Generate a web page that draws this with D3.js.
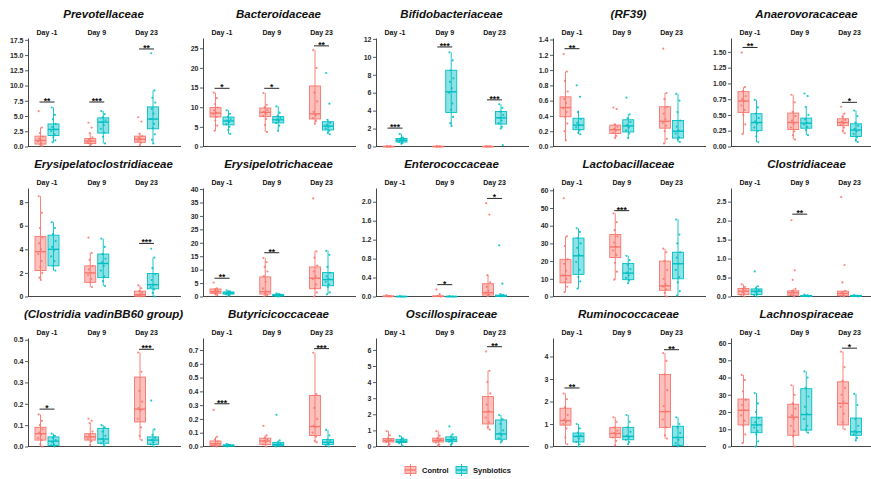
<!DOCTYPE html>
<html>
<head>
<meta charset="utf-8">
<script src="https://cdn.jsdelivr.net/npm/d3@7"></script>
<style>
  body { margin: 0; background: #fff; }
  svg { font-family: 'Liberation Sans', Arial, sans-serif; }
</style>
</head>
<body>
<svg id="chart"></svg>
<script>
// ---- data ----
const families = ['Prevotellaceae', 'Bacteroidaceae', 'Bifidobacteriaceae', '(RF39)', 'Anaerovoracaceae',
  'Erysipelatoclostridiaceae', 'Erysipelotrichaceae', 'Enterococcaceae', 'Lactobacillaceae', 'Clostridiaceae',
  '(Clostridia vadinBB60 group)', 'Butyricicoccaceae', 'Oscillospiraceae', 'Ruminococcaceae', 'Lachnospiraceae'];
const days = ['Day -1', 'Day 9', 'Day 23'];
const groups = ['Control', 'Synbiotics'];

const yTop = [17.8, 27.6, 12.1, 1.42, 1.72, 9.2, 40.4, 2.29, 61.3, 2.86, 0.508, 0.787, 6.74, 4.82, 62.9];
const yTicks = [
  [0, 2.5, 5, 7.5, 10, 12.5, 15, 17.5], [0, 5, 10, 15, 20, 25], [0, 2, 4, 6, 8, 10, 12],
  [0, 0.2, 0.4, 0.6, 0.8, 1.0, 1.2, 1.4], [0, 0.25, 0.5, 0.75, 1.0, 1.25, 1.5],
  [0, 2, 4, 6, 8], [0, 5, 10, 15, 20, 25, 30, 35, 40], [0, 0.4, 0.8, 1.2, 1.6, 2.0],
  [0, 10, 20, 30, 40, 50, 60], [0, 0.5, 1.0, 1.5, 2.0, 2.5],
  [0, 0.1, 0.2, 0.3, 0.4, 0.5], [0, 0.1, 0.2, 0.3, 0.4, 0.5, 0.6, 0.7],
  [0, 1, 2, 3, 4, 5, 6], [0, 1, 2, 3, 4], [0, 10, 20, 30, 40, 50, 60]
];
const tickDigits = [1, 0, 0, 1, 2, 0, 0, 1, 0, 1, 1, 1, 0, 0, 0];

// [lower whisker, q1, median, q3, upper whisker] for Day -1, Day 9, Day 23
const controlBox = [
  [[0, 0.4, 1.0, 1.7, 3.1], [0.1, 0.5, 0.9, 1.3, 2.2], [0.2, 0.7, 1.2, 1.7, 2.1]],
  [[4.0, 7.5, 8.5, 9.9, 13.7], [3.7, 7.6, 8.7, 9.8, 13.6], [5.8, 7.0, 8.3, 15.4, 24.5]],
  [[0, 0, 0, 0.02, 0.05], [0, 0, 0, 0.02, 0.05], [0, 0, 0, 0.02, 0.05]],
  [[0.08, 0.39, 0.51, 0.65, 0.98], [0.11, 0.17, 0.22, 0.28, 0.30], [0.04, 0.24, 0.33, 0.52, 0.70]],
  [[0.20, 0.54, 0.72, 0.87, 0.94], [0.11, 0.27, 0.38, 0.53, 0.82], [0.21, 0.33, 0.38, 0.44, 0.52]],
  [[1.4, 2.2, 3.8, 5.1, 8.5], [0.8, 1.2, 2.0, 2.6, 3.7], [0, 0.02, 0.15, 0.45, 0.95]],
  [[0.5, 1.2, 1.8, 2.8, 3.0], [0.1, 0.9, 1.8, 7.3, 14.3], [0, 2.9, 6.8, 11.0, 16.8]],
  [[0, 0, 0.005, 0.01, 0.02], [0, 0, 0.005, 0.01, 0.02], [0, 0.03, 0.08, 0.27, 0.45]],
  [[2.5, 7.7, 11.8, 21.0, 34.0], [9.5, 22.0, 28.0, 35.0, 47.0], [0, 3.5, 6.0, 20.0, 27.0]],
  [[0, 0.05, 0.14, 0.21, 0.32], [0, 0.03, 0.10, 0.15, 0.20], [0, 0.02, 0.08, 0.14, 0.15]],
  [[0, 0.03, 0.06, 0.09, 0.15], [0.005, 0.03, 0.045, 0.06, 0.11], [0.03, 0.115, 0.175, 0.325, 0.44]],
  [[0, 0.005, 0.02, 0.04, 0.07], [0, 0.015, 0.04, 0.06, 0.08], [0.03, 0.08, 0.145, 0.37, 0.68]],
  [[0.05, 0.28, 0.38, 0.5, 0.95], [0.05, 0.28, 0.38, 0.52, 0.95], [1.05, 1.4, 2.15, 3.1, 4.7]],
  [[0.1, 0.95, 1.15, 1.7, 2.35], [0.05, 0.4, 0.58, 0.85, 1.3], [0.35, 0.85, 1.55, 3.2, 4.15]],
  [[2, 12.5, 21, 27.5, 41.5], [0, 6.5, 17, 24.5, 35.5], [10, 12.5, 25, 37.5, 55]]
];
const synbioticBox = [
  [[0.7, 1.8, 2.8, 3.7, 6.4], [0.5, 2.2, 4.0, 4.7, 5.8], [0.5, 2.9, 4.5, 6.5, 9.2]],
  [[3.2, 5.5, 6.5, 7.5, 9.2], [4.0, 6.0, 6.8, 7.6, 10.2], [3.1, 4.2, 5.2, 6.3, 6.8]],
  [[0.3, 0.5, 0.7, 0.9, 1.4], [2.3, 3.8, 6.1, 8.5, 10.5], [2.0, 2.5, 3.2, 3.9, 4.7]],
  [[0.16, 0.22, 0.28, 0.37, 0.47], [0.11, 0.19, 0.27, 0.35, 0.42], [0.06, 0.11, 0.20, 0.34, 0.69]],
  [[0.07, 0.25, 0.38, 0.52, 0.74], [0.18, 0.29, 0.37, 0.45, 0.63], [0.07, 0.16, 0.26, 0.36, 0.57]],
  [[2.2, 2.6, 4.0, 5.2, 6.3], [0.9, 1.6, 2.8, 3.6, 4.9], [0, 0.65, 1.0, 1.95, 3.3]],
  [[0.2, 0.9, 1.3, 1.7, 2.3], [0, 0.2, 0.4, 0.8, 1.2], [0.8, 4.0, 6.3, 8.9, 17.0]],
  [[0, 0, 0, 0.005, 0.01], [0, 0, 0, 0.005, 0.01], [0, 0, 0.01, 0.03, 0.05]],
  [[4.5, 12.5, 23.0, 33.0, 38.5], [7.5, 9.5, 13.2, 18.7, 23.0], [0.5, 10.0, 18.5, 25.0, 43.5]],
  [[0, 0.05, 0.14, 0.2, 0.27], [0, 0, 0.01, 0.03, 0.05], [0, 0, 0.01, 0.03, 0.04]],
  [[0, 0.005, 0.025, 0.045, 0.06], [0.005, 0.015, 0.035, 0.085, 0.10], [0, 0.01, 0.03, 0.045, 0.08]],
  [[0, 0.002, 0.007, 0.012, 0.02], [0, 0.005, 0.015, 0.03, 0.045], [0, 0.015, 0.03, 0.05, 0.12]],
  [[0.05, 0.25, 0.32, 0.45, 0.65], [0.1, 0.3, 0.42, 0.6, 0.75], [0.25, 0.45, 0.78, 1.65, 1.95]],
  [[0, 0.2, 0.45, 0.6, 1.0], [0.1, 0.3, 0.45, 0.85, 1.4], [0, 0.05, 0.4, 0.9, 1.3]],
  [[0, 8, 12.5, 17, 31], [8, 9.5, 18.5, 33.5, 43.5], [3.5, 6.5, 8.5, 16.5, 30.5]]
];

// individual samples (incl. outliers)
const controlPoints = [
  [[5.8, 3.1, 2.2, 1.6, 1.3, 1.0, 0.8, 0.5, 0.3, 0.1], [3.9, 3.1, 2.2, 1.5, 1.2, 0.9, 0.7, 0.4, 0.2], [4.8, 4.1, 2.1, 1.7, 1.4, 1.2, 0.9, 0.6, 0.2]],
  [[13.7, 12.3, 10.8, 9.9, 9.2, 8.6, 8.2, 7.5, 6.6, 5.3, 4.0], [13.6, 10.6, 10.0, 9.3, 8.8, 8.3, 7.8, 7.0, 5.5, 3.7], [24.5, 20.0, 13.7, 11.5, 8.8, 8.0, 7.2, 6.5, 5.8]],
  [[0.02, 0.01, 0, 0, 0], [0.02, 0.01, 0, 0, 0], [0.02, 0.01, 0, 0, 0]],
  [[1.21, 0.98, 0.86, 0.72, 0.62, 0.57, 0.50, 0.45, 0.38, 0.30, 0.20, 0.08], [0.51, 0.49, 0.29, 0.26, 0.23, 0.21, 0.18, 0.14, 0.11], [1.28, 0.70, 0.62, 0.52, 0.43, 0.36, 0.31, 0.27, 0.20, 0.10, 0.04]],
  [[1.49, 0.94, 0.88, 0.80, 0.75, 0.72, 0.65, 0.58, 0.50, 0.35, 0.20], [0.82, 0.70, 0.55, 0.48, 0.41, 0.36, 0.30, 0.24, 0.18, 0.11], [0.63, 0.52, 0.47, 0.42, 0.39, 0.37, 0.34, 0.30, 0.25, 0.21]],
  [[8.5, 7.1, 5.8, 5.0, 4.5, 4.0, 3.6, 3.0, 2.5, 2.0, 1.6, 1.4], [5.0, 3.7, 3.1, 2.6, 2.3, 2.0, 1.8, 1.5, 1.2, 0.8], [0.95, 0.7, 0.45, 0.3, 0.15, 0.08, 0.03, 0]],
  [[5.2, 3.0, 2.7, 2.2, 1.9, 1.7, 1.4, 1.1, 0.8, 0.5], [14.3, 12.8, 11.0, 9.3, 7.6, 5.5, 3.0, 1.8, 1.2, 0.5, 0.1], [36.5, 16.8, 14.5, 11.5, 9.3, 7.5, 6.5, 4.5, 3.0, 1.5, 0]],
  [[0.03, 0.01, 0, 0], [0.15, 0.05, 0.01, 0], [1.97, 1.73, 0.45, 0.30, 0.20, 0.12, 0.08, 0.04, 0.01]],
  [[55.5, 34.0, 28.5, 21.0, 18.5, 14.5, 12.0, 10.0, 8.0, 5.5, 2.5], [47.0, 42.0, 37.5, 34.0, 30.5, 28.0, 26.0, 23.5, 19.0, 14.0, 9.5], [27.0, 25.0, 20.0, 15.0, 10.0, 7.0, 5.5, 4.0, 2.0, 0]],
  [[0.32, 0.25, 0.2, 0.16, 0.12, 0.08, 0.04, 0], [2.01, 0.69, 0.44, 0.2, 0.14, 0.1, 0.05, 0], [2.62, 0.83, 0.37, 0.15, 0.1, 0.06, 0.02, 0]],
  [[0.15, 0.12, 0.10, 0.08, 0.065, 0.055, 0.04, 0.03, 0.01, 0], [0.13, 0.12, 0.11, 0.07, 0.055, 0.045, 0.035, 0.025, 0.005], [0.44, 0.35, 0.26, 0.21, 0.18, 0.17, 0.13, 0.09, 0.05, 0.03]],
  [[0.265, 0.07, 0.05, 0.035, 0.02, 0.01, 0.005, 0], [0.15, 0.08, 0.065, 0.05, 0.04, 0.03, 0.015, 0], [0.68, 0.38, 0.28, 0.2, 0.15, 0.14, 0.1, 0.07, 0.04, 0.03]],
  [[0.95, 0.7, 0.5, 0.42, 0.38, 0.33, 0.27, 0.15, 0.05], [0.95, 0.68, 0.52, 0.44, 0.38, 0.32, 0.25, 0.12, 0.05], [5.9, 4.7, 4.0, 3.3, 2.6, 2.2, 1.8, 1.5, 1.2, 1.05]],
  [[2.35, 2.1, 1.75, 1.4, 1.2, 1.1, 1.0, 0.8, 0.4, 0.1], [1.3, 1.1, 0.85, 0.7, 0.6, 0.5, 0.4, 0.25, 0.05], [4.15, 3.8, 3.2, 2.5, 1.8, 1.55, 1.2, 0.85, 0.5, 0.35]],
  [[41.5, 38.5, 32, 27, 24, 21, 18, 15, 12, 7, 2], [35.5, 30, 25, 22, 18, 16, 12, 9, 6, 0], [55, 46, 38, 34, 30, 26, 23, 19, 14, 10]]
];
const synbioticPoints = [
  [[6.4, 5.2, 4.5, 3.7, 3.2, 2.8, 2.5, 2.0, 1.5, 1.0, 0.7], [5.8, 5.3, 4.8, 4.3, 4.0, 3.5, 2.9, 2.3, 1.6, 0.5], [15.3, 9.2, 8.0, 7.2, 6.2, 5.4, 4.5, 3.7, 3.0, 2.0, 1.1, 0.5]],
  [[9.2, 8.3, 7.6, 7.0, 6.6, 6.2, 5.7, 5.0, 4.2, 3.2], [10.2, 8.6, 7.8, 7.3, 6.9, 6.5, 6.0, 5.3, 4.0], [18.7, 10.9, 6.8, 6.0, 5.5, 5.0, 4.6, 4.0, 3.5, 3.1]],
  [[1.4, 1.0, 0.9, 0.8, 0.7, 0.6, 0.5, 0.4, 0.3], [10.5, 9.6, 8.5, 7.6, 7.2, 6.5, 6.0, 4.8, 4.1, 3.3, 2.6, 2.3], [4.7, 4.3, 3.9, 3.5, 3.2, 2.9, 2.6, 2.2, 2.0, 0.15]],
  [[0.80, 0.65, 0.45, 0.36, 0.31, 0.28, 0.25, 0.21, 0.18, 0.16], [0.64, 0.42, 0.37, 0.32, 0.28, 0.25, 0.21, 0.17, 0.11], [0.69, 0.60, 0.45, 0.34, 0.26, 0.21, 0.17, 0.12, 0.09, 0.06]],
  [[0.74, 0.62, 0.52, 0.45, 0.40, 0.36, 0.30, 0.24, 0.16, 0.07], [0.84, 0.80, 0.63, 0.50, 0.43, 0.38, 0.35, 0.31, 0.26, 0.18], [0.57, 0.48, 0.38, 0.33, 0.28, 0.24, 0.20, 0.15, 0.10, 0.07]],
  [[6.3, 5.8, 5.3, 4.7, 4.2, 3.9, 3.4, 3.0, 2.6, 2.2], [4.9, 4.2, 3.6, 3.2, 2.9, 2.6, 2.2, 1.7, 1.3, 0.9], [4.05, 3.3, 2.4, 1.9, 1.4, 1.0, 0.8, 0.6, 0.3, 0]],
  [[2.3, 1.9, 1.6, 1.4, 1.2, 1.0, 0.8, 0.5, 0.2], [1.2, 0.9, 0.7, 0.5, 0.4, 0.3, 0.2, 0.1, 0], [17.0, 15.5, 11.0, 8.8, 7.5, 6.5, 5.5, 4.5, 3.5, 1.5, 0.8]],
  [[0.01, 0, 0], [0.01, 0], [1.08, 0.27, 0.05, 0.03, 0.01, 0]],
  [[38.5, 36.5, 33.0, 30.0, 27.5, 23.5, 19.5, 15.0, 11.0, 8.5, 4.5], [23.0, 20.5, 18.0, 15.5, 13.5, 12.0, 10.5, 9.0, 7.5], [43.5, 35.0, 30.0, 25.0, 22.0, 18.5, 15.0, 11.0, 8.0, 3.0, 0.5]],
  [[0.66, 0.27, 0.22, 0.17, 0.12, 0.08, 0.03, 0], [0.05, 0.03, 0.01, 0], [0.04, 0.02, 0.01, 0]],
  [[0.06, 0.05, 0.04, 0.03, 0.02, 0.01, 0.005, 0], [0.10, 0.09, 0.07, 0.05, 0.035, 0.025, 0.015, 0.005], [0.215, 0.08, 0.055, 0.04, 0.03, 0.02, 0.01, 0]],
  [[0.02, 0.012, 0.008, 0.004, 0], [0.23, 0.045, 0.03, 0.02, 0.01, 0.005, 0], [0.12, 0.08, 0.05, 0.04, 0.03, 0.02, 0.01, 0]],
  [[0.65, 0.5, 0.42, 0.35, 0.3, 0.26, 0.2, 0.05], [1.25, 0.75, 0.62, 0.5, 0.42, 0.36, 0.3, 0.2, 0.1], [1.95, 1.7, 1.4, 1.0, 0.8, 0.7, 0.5, 0.35, 0.25]],
  [[1.0, 0.8, 0.62, 0.5, 0.45, 0.35, 0.2, 0.1, 0], [1.4, 1.1, 0.85, 0.65, 0.48, 0.4, 0.3, 0.2, 0.1], [1.3, 1.0, 0.85, 0.6, 0.4, 0.3, 0.15, 0.05, 0]],
  [[31, 25, 20, 16.5, 14, 12.5, 11, 9, 7, 3, 0], [43.5, 40, 34, 29, 23, 19, 16, 12, 10, 8], [30.5, 24, 16, 12, 9, 8, 7, 5, 3.5]]
];

// significance brackets: height and label per day (null = none)
const sigY = [
  [7.3, 7.3, 16.0], [14.8, 14.8, 25.6], [2.05, 11.1, 5.2], [1.28, null, null], [1.57, null, 0.70],
  [null, null, 4.5], [6.8, 16.3, null], [null, 0.25, 2.07], [null, 48.5, null], [null, 2.17, null],
  [0.175, null, 0.455], [0.31, null, 0.71], [null, null, 6.2], [2.6, null, 4.3], [null, null, 57]
];
const sigText = [
  ['**', '***', '**'], ['*', '*', '**'], ['***', '***', '***'], ['**', '', ''], ['**', '', '*'],
  ['', '', '***'], ['**', '**', ''], ['', '*', '*'], ['', '***', ''], ['', '**', ''],
  ['*', '', '***'], ['***', '', '***'], ['', '', '**'], ['**', '', '**'], ['', '', '*']
];

const colors = { Control: '#F8766D', Synbiotics: '#00BFC4' };
const jitter = [-1.8, 1.4, -0.6, 2.2, -1.3, 0.5, -2.3, 1.0, -0.2, 1.8, -1.0, 0.3];

class BoxPanel {

  constructor(config, data) {
    this.config = {
      parent: config.parent,
      left: config.left,
      top: config.top,
      width: config.width || 151,
      height: config.height || 108.5,
      title: config.title || '',
      ymax: config.ymax,
      ticks: config.ticks,
      digits: config.digits
    };
    this.data = data;
    this.init();
  }

  init() {
    let self = this;

    self.svg = self.config.parent.append('g')
      .attr('transform', `translate(${self.config.left}, ${self.config.top})`);

    self.xScale = d3.scalePoint()
      .domain(days)
      .range([19, 118.5]);

    self.dodge = d3.scaleBand()
      .domain(groups)
      .range([-13, 13]);

    self.yScale = d3.scaleLinear()
      .domain([0, self.config.ymax])
      .range([self.config.height, 0]);

    self.svg.append('text')
      .attr('x', self.config.width / 2)
      .attr('y', -20)
      .attr('text-anchor', 'middle')
      .style('font-size', '11.5px')
      .style('font-weight', 'bold')
      .style('font-style', 'italic')
      .style('fill', '#111')
      .text(self.config.title);

    self.svg.selectAll('.day')
      .data(days)
      .enter()
      .append('text')
      .attr('x', d => self.xScale(d))
      .attr('y', -3.5)
      .attr('text-anchor', 'middle')
      .style('font-size', '7px')
      .style('font-weight', 'bold')
      .style('fill', '#111')
      .text(d => d);

    const yAxis = d3.axisLeft(self.yScale)
      .tickValues(self.config.ticks)
      .tickSize(3)
      .tickSizeOuter(0)
      .tickFormat(d3.format(`.${self.config.digits}f`));

    const ya = self.svg.append('g').call(yAxis);
    ya.select('.domain').attr('stroke', '#333').attr('stroke-width', 0.9);
    ya.selectAll('.tick line').attr('stroke', '#333').attr('stroke-width', 0.8);
    ya.selectAll('.tick text')
      .attr('x', -4.5)
      .style('font-size', '7px')
      .style('font-weight', 'bold')
      .style('font-family', "'Liberation Sans', Arial, sans-serif")
      .style('fill', '#2b2b2b');

    self.svg.append('line')
      .attr('x1', 0)
      .attr('x2', self.config.width + 2)
      .attr('y1', self.config.height)
      .attr('y2', self.config.height)
      .attr('stroke', '#333')
      .attr('stroke-width', 0.9);
  }

  render() {
    let self = this;
    const bw = 11;
    const y = self.yScale;

    const rows = [];
    days.forEach((day, i) => {
      groups.forEach(g => {
        const b = g === 'Control' ? self.data.control[i] : self.data.synbiotic[i];
        const p = g === 'Control' ? self.data.controlPts[i] : self.data.synbioticPts[i];
        rows.push({ day: day, group: g, box: b, pts: p,
          cx: self.xScale(day) + self.dodge(g) + self.dodge.bandwidth() / 2 });
      });
    });

    const box = self.svg.selectAll('.box')
      .data(rows)
      .enter()
      .append('g');

    box.append('line')
      .attr('x1', d => d.cx).attr('x2', d => d.cx)
      .attr('y1', d => y(d.box[0])).attr('y2', d => y(d.box[4]))
      .attr('stroke', d => colors[d.group])
      .attr('stroke-width', 0.9);

    box.append('rect')
      .attr('x', d => d.cx - bw / 2)
      .attr('width', bw)
      .attr('y', d => y(d.box[3]))
      .attr('height', d => Math.max(0.6, y(d.box[1]) - y(d.box[3])))
      .attr('fill', d => colors[d.group])
      .attr('fill-opacity', 0.45)
      .attr('stroke', d => colors[d.group])
      .attr('stroke-width', 0.9);

    box.append('line')
      .attr('x1', d => d.cx - bw / 2).attr('x2', d => d.cx + bw / 2)
      .attr('y1', d => y(d.box[2])).attr('y2', d => y(d.box[2]))
      .attr('stroke', d => colors[d.group])
      .attr('stroke-width', 1.4);

    box.selectAll('circle')
      .data(d => d.pts.map((v, k) => ({ v: v, k: k, cx: d.cx, group: d.group })))
      .enter()
      .append('circle')
      .attr('cx', d => d.cx + jitter[d.k % jitter.length])
      .attr('cy', d => y(d.v))
      .attr('r', 1.1)
      .attr('fill', d => colors[d.group])
      .attr('fill-opacity', 0.85);

    const sig = days.map((day, i) => ({ day: day, v: self.data.sigY[i], t: self.data.sigText[i] }))
      .filter(d => d.v !== null);

    const sg = self.svg.selectAll('.sig')
      .data(sig)
      .enter()
      .append('g');

    sg.append('line')
      .attr('x1', d => self.xScale(d.day) - 7.5)
      .attr('x2', d => self.xScale(d.day) + 7.5)
      .attr('y1', d => y(d.v))
      .attr('y2', d => y(d.v))
      .attr('stroke', '#111')
      .attr('stroke-width', 0.9);

    sg.append('text')
      .attr('x', d => self.xScale(d.day))
      .attr('y', d => y(d.v) + 2)
      .attr('text-anchor', 'middle')
      .style('font-size', '8.5px')
      .style('font-weight', 'bold')
      .style('fill', '#111')
      .text(d => d.t);
  }
}

const svg = d3.select('#chart')
  .attr('width', 871)
  .attr('height', 479);

svg.append('rect').attr('width', 871).attr('height', 479).attr('fill', '#fff');

const colLeft = [28, 203, 376, 553, 731];
families.forEach((name, f) => {
  const panel = new BoxPanel({
    parent: svg,
    left: colLeft[f % 5],
    top: 38 + Math.floor(f / 5) * 150,
    title: name,
    ymax: yTop[f],
    ticks: yTicks[f],
    digits: tickDigits[f]
  }, {
    control: controlBox[f],
    synbiotic: synbioticBox[f],
    controlPts: controlPoints[f],
    synbioticPts: synbioticPoints[f],
    sigY: sigY[f],
    sigText: sigText[f]
  });
  panel.render();
});

// legend
const legend = svg.append('g').attr('transform', 'translate(404, 464)');
const lx = d3.scaleOrdinal().domain(groups).range([0, 51]);
const key = legend.selectAll('.key')
  .data(groups)
  .enter()
  .append('g')
  .attr('transform', d => `translate(${lx(d)}, 0)`);
key.append('line')
  .attr('x1', 6.5).attr('x2', 6.5).attr('y1', 0).attr('y2', 12)
  .attr('stroke', d => colors[d]).attr('stroke-width', 0.9);
key.append('rect')
  .attr('x', 1).attr('y', 2.5).attr('width', 11).attr('height', 7)
  .attr('fill', d => colors[d]).attr('fill-opacity', 0.45)
  .attr('stroke', d => colors[d]).attr('stroke-width', 0.9);
key.append('line')
  .attr('x1', 1).attr('x2', 12).attr('y1', 6).attr('y2', 6)
  .attr('stroke', d => colors[d]).attr('stroke-width', 1.4);
key.append('text')
  .attr('x', 18)
  .attr('y', 8.8)
  .style('font-size', '7.5px')
  .style('font-weight', 'bold')
  .style('fill', '#111')
  .text(d => d);
</script>
</body>
</html>
